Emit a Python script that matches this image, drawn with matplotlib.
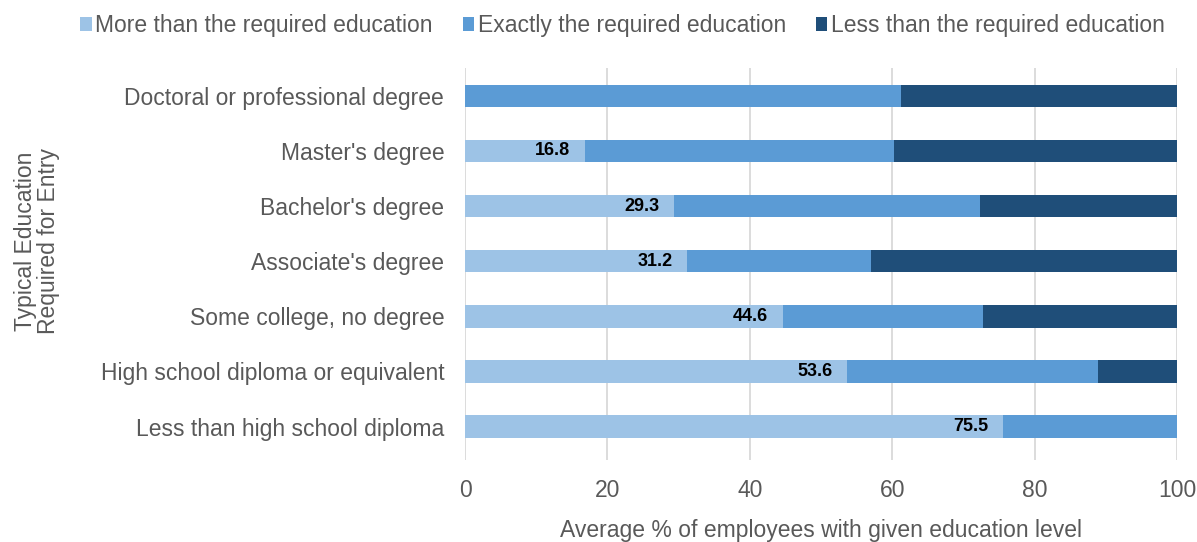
import matplotlib.pyplot as plt
import numpy as np

plt.rcParams['font.family'] = ['Liberation Sans', 'DejaVu Sans']

categories = [
    "Doctoral or professional degree",
    "Master's degree",
    "Bachelor's degree",
    "Associate's degree",
    "Some college, no degree",
    "High school diploma or equivalent",
    "Less than high school diploma",
]
more_than = [0.0, 16.8, 29.3, 31.2, 44.6, 53.6, 75.5]
exactly = [61.2, 43.5, 43.0, 25.8, 28.1, 35.3, 24.5]
less_than = [38.8, 39.7, 27.7, 43.0, 27.3, 11.1, 0.0]
series_names = [
    "More than the required education",
    "Exactly the required education",
    "Less than the required education",
]
colors = ["#9DC3E6", "#5B9BD5", "#1F4E79"]
xticks = [0, 20, 40, 60, 80, 100]

text_color = "#595959"
fs = 16.5

fig = plt.figure(figsize=(11.97, 5.42), dpi=100)
ax = fig.add_axes([0.3885, 0.152, 0.5948, 0.722])

y = np.arange(len(categories))
left = np.zeros(len(categories))
bars = []
for vals, name, c in zip([more_than, exactly, less_than], series_names, colors):
    b = ax.barh(y, vals, left=left, height=0.41, color=c, label=name, zorder=3)
    bars.append(b)
    left = left + np.array(vals)

# value labels at the inside end of the first segment
for yi, v in zip(y, more_than):
    if v > 0:
        ax.text(v - 2.0, yi, f"{v:.1f}", ha="right", va="center",
                fontsize=13, fontweight="bold", color="black", zorder=4)

ax.set_ylim(len(categories) - 0.4, -0.5)
ax.set_yticks(y)
ax.set_yticklabels(categories, fontsize=fs, color=text_color)
ax.set_xlim(0, 100)
ax.set_xticks(xticks)
ax.set_xticklabels([str(t) for t in xticks], fontsize=fs, color=text_color)
ax.tick_params(axis="both", length=0)
ax.tick_params(axis="y", pad=15)
ax.tick_params(axis="x", pad=14)
ax.grid(axis="x", color="#D9D9D9", linewidth=1.3, zorder=0)
for s in ax.spines.values():
    s.set_visible(False)

ax.set_xlabel("Average % of employees with given education level",
              fontsize=fs, color=text_color, labelpad=12)
fig.text(0.031, 0.555, "Typical Education\nRequired for Entry", rotation=90,
         ha="center", va="center", fontsize=fs, color=text_color,
         linespacing=1.0)

fig.legend(handles=bars, labels=series_names, loc="upper center",
           bbox_to_anchor=(0.52, 1.012), ncol=3, frameon=False,
           fontsize=fs, handlelength=0.5, handleheight=0.5,
           handletextpad=0.15, columnspacing=1.3, labelcolor=text_color)

fig.savefig("out.png", dpi=100)
